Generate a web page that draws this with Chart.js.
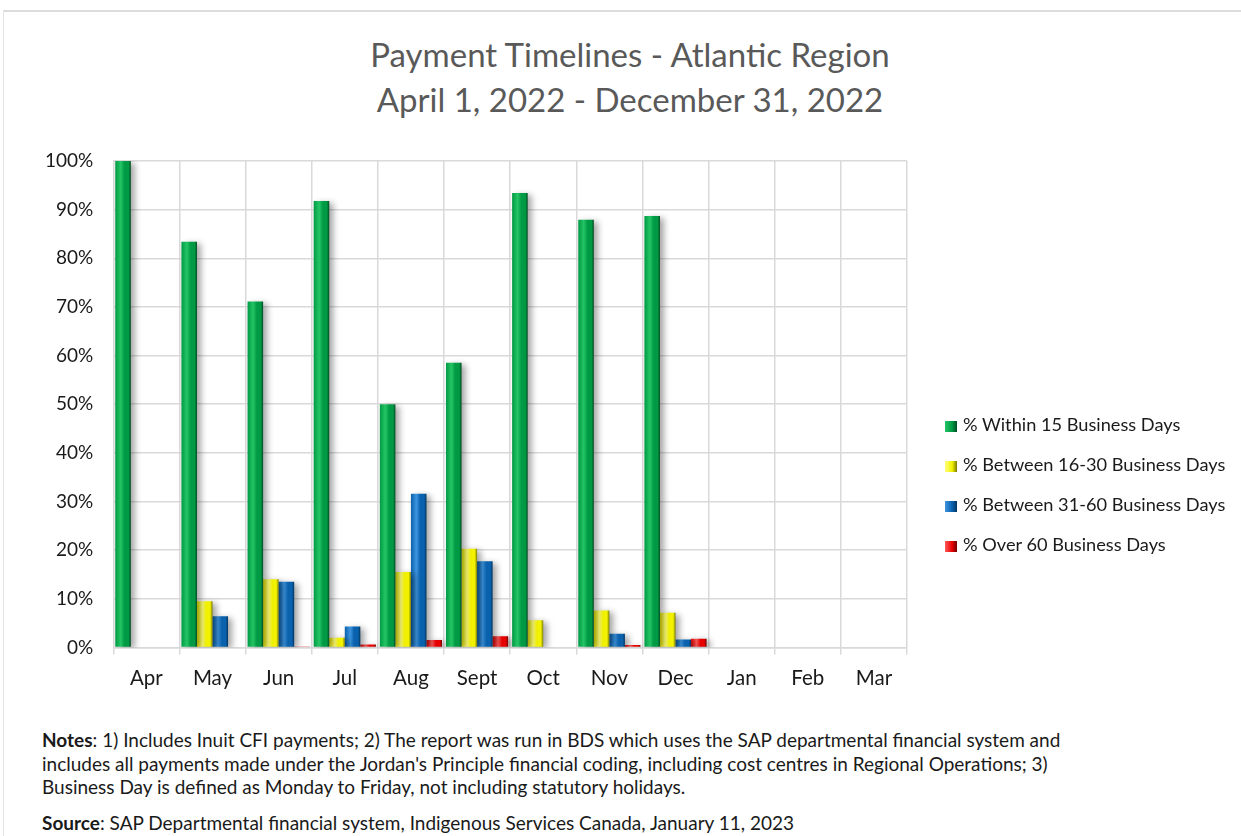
<!DOCTYPE html>
<html>
<head>
<meta charset="utf-8">
<script src="https://cdn.jsdelivr.net/npm/chart.js@4.4.1/dist/chart.umd.min.js"></script>
<style>
  body { margin: 0; background: #fff; font-family: Lato, "Open Sans", sans-serif; }
  #page { position: relative; width: 1241px; height: 836px; overflow: hidden; }
  #frame { position: absolute; left: 3px; top: 10px; width: 1250px; height: 840px;
           border-top: 2px solid #dcdcdc; border-left: 1px solid #e6e6e6; }
  #title { position: absolute; left: 0; top: 32px; width: 1260px; text-align: center;
           font-size: 33px; line-height: 45px; color: #595959; }
  #wrap { position: absolute; left: 0; top: 120px; width: 1241px; height: 585px; }
  #legend { position: absolute; left: 945px; top: 412px; font-size: 18.2px; color: #1a1a1a; }
  #legend div { height: 40px; line-height: 24px; white-space: nowrap; }
  #legend span { display: inline-block; width: 12px; height: 11px; margin-right: 6px; vertical-align: -1px; }
  #notes { position: absolute; left: 42px; top: 728px; font-size: 19px; line-height: 23.5px; color: #1a1a1a; white-space: nowrap; }
  #notes p { margin: 0; }
  #notes p.src { margin-top: 12px; }
</style>
</head>
<body>
<div id="page">
  <div id="frame"></div>
  <div id="title">Payment Timelines - Atlantic Region<br>April 1, 2022 - December 31, 2022</div>
  <div id="wrap"><canvas id="chart"></canvas></div>
  <div id="legend"></div>
  <div id="notes">
    <p><b>Notes</b>: 1) Includes Inuit CFI payments; 2) The report was run in BDS which uses the SAP departmental financial system and<br>
    includes all payments made under the Jordan's Principle financial coding, including cost centres in Regional Operations; 3)<br>
    Business Day is defined as Monday to Friday, not including statutory holidays.</p>
    <p class="src"><b>Source</b>: SAP Departmental financial system, Indigenous Services Canada, January 11, 2023</p>
  </div>
</div>
<script>
var months = ['Apr', 'May', 'Jun', 'Jul', 'Aug', 'Sept', 'Oct', 'Nov', 'Dec', 'Jan', 'Feb', 'Mar'];
var seriesNames = ['% Within 15 Business Days', '% Between 16-30 Business Days',
                   '% Between 31-60 Business Days', '% Over 60 Business Days'];
var within15  = [100, 83.4, 71.1, 91.8, 50.0, 58.5, 93.4, 87.9, 88.7, null, null, null];
var days16to30 = [0, 9.5, 14.0, 2.0, 15.5, 20.3, 5.6, 7.6, 7.1, null, null, null];
var days31to60 = [0, 6.4, 13.5, 4.3, 31.6, 17.7, 0, 2.8, 1.6, null, null, null];
var over60    = [0, 0, 0.1, 0.6, 1.5, 2.3, 0, 0.5, 1.8, null, null, null];
var yTicks = [0, 10, 20, 30, 40, 50, 60, 70, 80, 90, 100];

// [light, mid, dark] shades for the 3D look
var shades = [
  ['#24c564', '#009a45', '#004a20'],
  ['#ffff7a', '#f2f200', '#7a7a00'],
  ['#3d95e0', '#0a62ae', '#02345f'],
  ['#ff5a5a', '#e80000', '#700000']
];

function barFill(i) {
  return function (ctx) {
    var el = ctx.element, c = ctx.chart.ctx, s = shades[i];
    if (!el || el.x == null || !isFinite(el.x)) return s[1];
    var x0 = el.x - el.width / 2, x1 = el.x + el.width / 2;
    var g = c.createLinearGradient(x0, 0, x1, 0);
    g.addColorStop(0, s[1]);
    g.addColorStop(0.35, s[0]);
    g.addColorStop(0.6, s[1]);
    g.addColorStop(0.85, s[1]);
    g.addColorStop(1, s[2]);
    return g;
  };
}

var shadowPlugin = {
  id: 'barShadow',
  beforeDatasetsDraw: function (chart) {
    var c = chart.ctx;
    c.save();
    c.shadowColor = 'rgba(0,0,0,0.35)';
    c.shadowBlur = 6;
    c.shadowOffsetX = 4;
    c.shadowOffsetY = 2;
  },
  afterDatasetsDraw: function (chart) {
    chart.ctx.restore();
  }
};

var seriesData = [within15, days16to30, days31to60, over60];
var datasets = seriesData.map(function (d, i) {
  return {
    label: seriesNames[i],
    data: d,
    backgroundColor: barFill(i),
    borderWidth: 0,
    barPercentage: 1,
    categoryPercentage: 0.94
  };
});

var chart = new Chart(document.getElementById('chart'), {
  type: 'bar',
  data: { labels: months, datasets: datasets },
  plugins: [shadowPlugin],
  options: {
    responsive: true,
    maintainAspectRatio: false,
    animation: false,
    layout: { padding: { left: 25, right: 334, top: 41, bottom: 2 } },
    plugins: {
      legend: { display: false },
      tooltip: { enabled: false }
    },
    scales: {
      x: {
        grid: { color: '#d9d9d9', lineWidth: 1.5, tickLength: 7, offset: true },
        border: { color: '#d9d9d9', width: 1.5 },
        ticks: { color: '#1a1a1a', font: { family: 'Lato', size: 20.5 }, padding: 12 }
      },
      y: {
        min: 0, max: 100,
        afterBuildTicks: function (axis) {
          axis.ticks = yTicks.map(function (v) { return { value: v }; });
        },
        grid: { color: '#d9d9d9', lineWidth: 1.5, drawTicks: false },
        border: { display: false },
        ticks: {
          color: '#1a1a1a', font: { family: 'Lato', size: 19 }, padding: 20,
          callback: function (v) { return v + '%'; }
        }
      }
    }
  }
});
chart.update();

var legend = document.getElementById('legend');
seriesNames.forEach(function (name, i) {
  var row = document.createElement('div');
  var box = document.createElement('span');
  box.style.background = 'linear-gradient(90deg,' + shades[i][0] + ',' + shades[i][1] + ' 60%,' + shades[i][2] + ')';
  row.appendChild(box);
  row.appendChild(document.createTextNode(name));
  legend.appendChild(row);
});
</script>
</body>
</html>
